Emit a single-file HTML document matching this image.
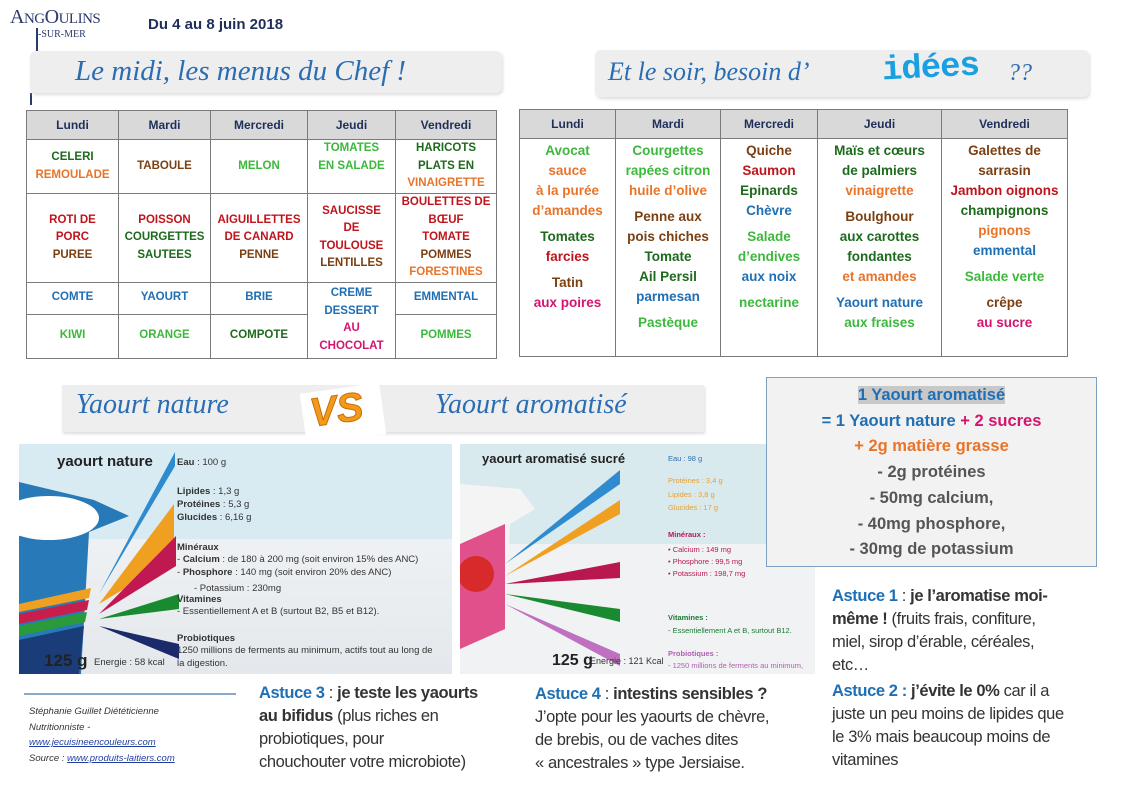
<!DOCTYPE html>
<html><head><meta charset="utf-8"><style>
*{margin:0;padding:0;box-sizing:border-box}
body{width:1123px;height:794px;background:#fff;position:relative;overflow:hidden;font-family:"Liberation Sans",sans-serif}
.a{position:absolute}
.banner{position:absolute;background:#eeeeee;border-radius:6px;box-shadow:1px 2px 3px #ddd}
.script{font-family:"Liberation Serif",serif;font-style:italic;color:#2a6db3;white-space:nowrap}
table{border-collapse:collapse;position:absolute;table-layout:fixed}
td,th{border:1px solid #7a7a7a;text-align:center;vertical-align:middle;font-weight:bold}
th{background:#d9d9d9;color:#1f2f5a;font-size:12px}
.t1 td{font-size:11.5px;line-height:17.5px}
.t2 td{font-size:13.5px;line-height:20px;vertical-align:top;padding-top:2px}
.dg{color:#1d6a1d}.or{color:#e8742a}.br{color:#7b3f12}.gr{color:#3cb83c}.rd{color:#c0141c}.bl{color:#1f6fb5}.pk{color:#d4146e}.nv{color:#1f3864}.gy{color:#444}
.gap{height:6px}
.ast{position:absolute;font-size:16.5px;line-height:23px;color:#333;white-space:nowrap;letter-spacing:-0.4px}
.ast b.h{color:#1f6fb5;font-weight:bold}
</style></head><body>

<div class="a" style="left:10px;top:6px;font-family:'Liberation Serif',serif;color:#2b3a6b;font-size:20px;letter-spacing:-0.5px">A<span style="font-size:15px">NG</span>O<span style="font-size:15px">ULINS</span></div>
<div class="a" style="left:38px;top:29px;font-family:'Liberation Serif',serif;color:#2b3a6b;font-size:10px">-SUR-MER</div>
<div class="a" style="left:36px;top:28px;width:2px;height:25px;background:#2b3a6b"></div>
<div class="a" style="left:30px;top:93px;width:2px;height:12px;background:#2b3a6b"></div>
<div class="a" style="left:148px;top:16px;font-size:15px;font-weight:bold;color:#1f2f5a">Du 4 au 8 juin 2018</div>

<div class="banner" style="left:30px;top:51px;width:472px;height:42px"></div>
<div class="a script" style="left:75px;top:55px;font-size:29px">Le midi, les menus du Chef !</div>
<div class="banner" style="left:595px;top:50px;width:494px;height:47px"></div>
<div class="a script" style="left:608px;top:57px;font-size:26px">Et le soir, besoin d’</div>
<div class="a" style="left:882px;top:50px;font-size:34px;font-weight:bold;color:#1aa0e0;font-family:'Liberation Mono',monospace;transform:rotate(-3deg);letter-spacing:-1px">idées</div>
<div class="a script" style="left:1008px;top:60px;font-size:24px">??</div>

<table class="t1" style="left:26px;top:110px;width:470px;height:246px">
<colgroup><col style="width:92px"><col style="width:92px"><col style="width:97px"><col style="width:88px"><col style="width:101px"></colgroup>
<tr style="height:29px"><th>Lundi</th><th>Mardi</th><th>Mercredi</th><th>Jeudi</th><th>Vendredi</th></tr>
<tr style="height:54px"><td><span class="dg">CELERI</span><br><span class="or">REMOULADE</span></td><td class="br">TABOULE</td><td class="gr">MELON</td><td class="gr" style="vertical-align:top">TOMATES<br>EN SALADE</td><td><span class="dg">HARICOTS<br>PLATS EN</span><br><span class="or">VINAIGRETTE</span></td></tr>
<tr style="height:87px"><td><span class="rd">ROTI DE<br>PORC</span><br><span class="br">PUREE</span></td><td><span class="rd">POISSON</span><br><span class="dg">COURGETTES<br>SAUTEES</span></td><td><span class="rd">AIGUILLETTES<br>DE CANARD</span><br><span class="br">PENNE</span></td><td><span class="rd">SAUCISSE<br>DE<br>TOULOUSE</span><br><span class="br">LENTILLES</span></td><td><span class="rd">BOULETTES DE<br>BŒUF<br>TOMATE</span><br><span class="br">POMMES</span><br><span class="or">FORESTINES</span></td></tr>
<tr style="height:32px"><td class="bl">COMTE</td><td class="bl">YAOURT</td><td class="bl">BRIE</td><td rowspan="2"><span class="bl">CREME<br>DESSERT</span><br><span class="pk">AU<br>CHOCOLAT</span></td><td class="bl">EMMENTAL</td></tr>
<tr style="height:44px"><td class="gr">KIWI</td><td class="gr">ORANGE</td><td class="dg">COMPOTE</td><td class="gr">POMMES</td></tr>
</table>

<table class="t2" style="left:519px;top:109px;width:548px;height:248px">
<colgroup><col style="width:96px"><col style="width:105px"><col style="width:97px"><col style="width:124px"><col style="width:126px"></colgroup>
<tr style="height:29px"><th>Lundi</th><th>Mardi</th><th>Mercredi</th><th>Jeudi</th><th>Vendredi</th></tr>
<tr><td><span class="gr">Avocat</span><br><span class="or">sauce<br>à la purée<br>d’amandes</span><div class="gap"></div><span class="dg">Tomates</span><br><span class="rd">farcies</span><div class="gap"></div><span class="br">Tatin</span><br><span class="pk">aux poires</span></td>
<td><span class="gr">Courgettes<br>rapées citron</span><br><span class="or">huile d’olive</span><div class="gap"></div><span class="br">Penne aux<br>pois chiches</span><br><span class="dg">Tomate<br>Ail Persil</span><br><span class="bl">parmesan</span><div class="gap"></div><span class="gr">Pastèque</span></td>
<td><span class="br">Quiche</span><br><span class="rd">Saumon</span><br><span class="dg">Epinards</span><br><span class="bl">Chèvre</span><div class="gap"></div><span class="gr">Salade<br>d’endives</span><br><span class="bl">aux noix</span><div class="gap"></div><span class="gr">nectarine</span></td>
<td><span class="dg">Maïs et cœurs<br>de palmiers</span><br><span class="or">vinaigrette</span><div class="gap"></div><span class="br">Boulghour</span><br><span class="dg">aux carottes<br>fondantes</span><br><span class="or">et amandes</span><div class="gap"></div><span class="bl">Yaourt nature</span><br><span class="gr">aux fraises</span></td>
<td><span class="br">Galettes de<br>sarrasin</span><br><span class="rd">Jambon oignons</span><br><span class="dg">champignons</span><br><span class="or">pignons</span><br><span class="bl">emmental</span><div class="gap"></div><span class="gr">Salade verte</span><div class="gap"></div><span class="br">crêpe</span><br><span class="pk">au sucre</span></td></tr>
</table>

<div class="banner" style="left:62px;top:385px;width:642px;height:47px;border-radius:0"></div>
<div class="a script" style="left:76px;top:389px;font-size:28px">Yaourt nature</div>
<div class="a script" style="left:435px;top:389px;font-size:28px">Yaourt aromatisé</div>
<div class="a" style="left:303px;top:388px;width:80px;height:52px;background:#fff;transform:rotate(-8deg)"></div>
<div class="a" style="left:310px;top:388px;font-size:40px;font-weight:bold;color:#f39a1e;font-style:italic;-webkit-text-stroke:1px #c96f00;transform:rotate(-8deg)">VS</div>

<svg class="a" style="left:19px;top:444px" width="433" height="230">
<defs><linearGradient id="g1" x1="0" y1="0" x2="0" y2="1"><stop offset="0" stop-color="#f6f8f9"/><stop offset="1" stop-color="#e4e8ec"/></linearGradient></defs>
<rect width="433" height="230" fill="url(#g1)"/>
<rect width="433" height="95" fill="#d9ebf2"/>
<path d="M0 38 L75 56 L110 72 L70 88 L62 230 L0 230Z" fill="#2879b8"/>
<ellipse cx="30" cy="74" rx="50" ry="22" fill="#fff"/>
<path d="M0 230 L0 196 L65 182 L60 230Z" fill="#1a3d7a"/>
<path d="M0 182 L68 168 L66 178 L0 192Z" fill="#2a9a3a"/>
<path d="M0 170 L70 156 L68 166 L0 180Z" fill="#c81e4c"/>
<path d="M0 160 L72 144 L70 154 L0 168Z" fill="#f0a020"/>
<path d="M80 150 L156 8 L156 22Z" fill="#2f8bd0"/>
<path d="M80 160 L155 115 L155 60Z" fill="#f0a020"/>
<path d="M80 170 L157 122 L157 92Z" fill="#c01850"/>
<path d="M80 175 L160 150 L160 165Z" fill="#1a8a30"/>
<path d="M80 182 L160 200 L160 215Z" fill="#1a2a6a"/>
<text x="38" y="22" font-size="15" font-weight="bold" fill="#222">yaourt nature</text>
<g font-size="9.5" fill="#333"><text x="158" y="21"><tspan font-weight="bold">Eau</tspan> : 100 g</text>
<text x="158" y="50"><tspan font-weight="bold">Lipides</tspan> : 1,3 g</text><text x="158" y="63"><tspan font-weight="bold">Protéines</tspan> : 5,3 g</text><text x="158" y="76"><tspan font-weight="bold">Glucides</tspan> : 6,16 g</text>
<text x="158" y="106" font-weight="bold">Minéraux</text><text x="158" y="118">- <tspan font-weight="bold">Calcium</tspan> : de 180 à 200 mg (soit environ 15% des ANC)</text><text x="158" y="131">- <tspan font-weight="bold">Phosphore</tspan> : 140 mg (soit environ 20% des ANC)</text>
<text x="175" y="147">- Potassium  : 230mg</text><text x="158" y="158" font-weight="bold">Vitamines</text><text x="158" y="170">- Essentiellement A et B (surtout B2, B5 et B12).</text>
<text x="158" y="197" font-weight="bold">Probiotiques</text><text x="158" y="209">1250 millions de ferments au minimum, actifs tout au long de</text><text x="158" y="222">la digestion.</text>
<text x="75" y="221">Energie : 58 kcal</text></g>
<text x="25" y="222" font-size="17" font-weight="bold" fill="#222">125 g</text>
</svg>

<svg class="a" style="left:460px;top:444px" width="355" height="230">
<rect width="355" height="230" fill="#f1f2f4"/>
<rect width="355" height="100" fill="#d9eaee"/>
<path d="M0 40 L60 45 L75 65 L50 80 L45 185 L0 205Z" fill="#f4f4f4"/>
<path d="M0 100 L45 80 L45 185 L0 205Z" fill="#e0508a"/>
<circle cx="16" cy="130" r="18" fill="#d82a2a"/>
<path d="M45 120 L160 26 L160 40Z" fill="#2f8bd0"/>
<path d="M45 132 L160 56 L160 70Z" fill="#f0a020"/>
<path d="M45 140 L160 118 L160 134Z" fill="#b8184e"/>
<path d="M45 150 L160 165 L160 178Z" fill="#1a8a30"/>
<path d="M45 160 L160 210 L160 222Z" fill="#c070c0"/>
<text x="22" y="19" font-size="13" font-weight="bold" fill="#222">yaourt aromatisé sucré</text>
<g font-size="7.5"><text x="208" y="17" fill="#2f6fb0">Eau : 98 g</text>
<text x="208" y="39" fill="#e8a030">Protéines : 3,4 g</text><text x="208" y="53" fill="#e8a030">Lipides : 3,8 g</text><text x="208" y="66" fill="#e8a030">Glucides : 17 g</text>
<text x="208" y="93" fill="#b8184e" font-weight="bold">Minéraux :</text><text x="208" y="108" fill="#b8184e">• Calcium : 149 mg</text><text x="208" y="120" fill="#b8184e">• Phosphore : 99,5 mg</text><text x="208" y="132" fill="#b8184e">• Potassium : 198,7 mg</text>
<text x="208" y="176" fill="#1a7a30" font-weight="bold">Vitamines :</text><text x="208" y="189" fill="#1a7a30">- Essentiellement A et B, surtout B12.</text>
<text x="208" y="212" fill="#b060b0" font-weight="bold">Probiotiques :</text><text x="208" y="224" fill="#b060b0">- 1250 millions de ferments au minimum,</text>
<text x="130" y="220" fill="#333" font-size="9">Energie : 121 Kcal</text></g>
<text x="92" y="221" font-size="16" font-weight="bold" fill="#222">125 g</text>
</svg>

<div class="a" style="left:766px;top:377px;width:331px;height:190px;background:#f2f2f2;border:1px solid #7f9fc0;text-align:center;font-size:16.5px;font-weight:bold;line-height:25.7px;padding-top:5px">
<span class="bl" style="background:#c8c8c8">1 Yaourt aromatisé</span><br>
<span class="bl">= 1 Yaourt nature</span> <span class="pk">+ 2 sucres</span><br>
<span class="or">+ 2g matière grasse</span><br>
<span style="color:#555">- 2g protéines<br>- 50mg calcium,<br>- 40mg phosphore,<br>- 30mg de potassium</span></div>

<div class="ast" style="left:832px;top:585px"><b class="h">Astuce 1</b> : <b>je l’aromatise moi-</b><br><b>même !</b> (fruits frais, confiture,<br>miel, sirop d’érable, céréales,<br>etc…</div>
<div class="ast" style="left:832px;top:680px"><b class="h">Astuce 2 :</b> <b>j’évite le 0%</b> car il a<br>juste un peu moins de lipides que<br>le 3% mais beaucoup moins de<br>vitamines</div>
<div class="ast" style="left:259px;top:682px"><b class="h">Astuce 3</b> : <b>je teste les yaourts</b><br><b>au bifidus</b> (plus riches en<br>probiotiques, pour<br>chouchouter votre microbiote)</div>
<div class="ast" style="left:535px;top:683px"><b class="h">Astuce 4</b> : <b>intestins sensibles ?</b><br>J’opte pour les yaourts de chèvre,<br>de brebis, ou de vaches dites<br>« ancestrales » type Jersiaise.</div>

<div class="a" style="left:24px;top:693px;width:212px;height:2px;background:#8aa8c8"></div>
<div class="a" style="left:29px;top:704px;font-size:9.5px;line-height:15.5px;font-style:italic;color:#333">Stéphanie Guillet Diététicienne<br>Nutritionniste -<br><u style="color:#1f3fa0">www.jecuisineencouleurs.com</u><br>Source : <u style="color:#1f3fa0">www.produits-laitiers.com</u></div>
</body></html>
